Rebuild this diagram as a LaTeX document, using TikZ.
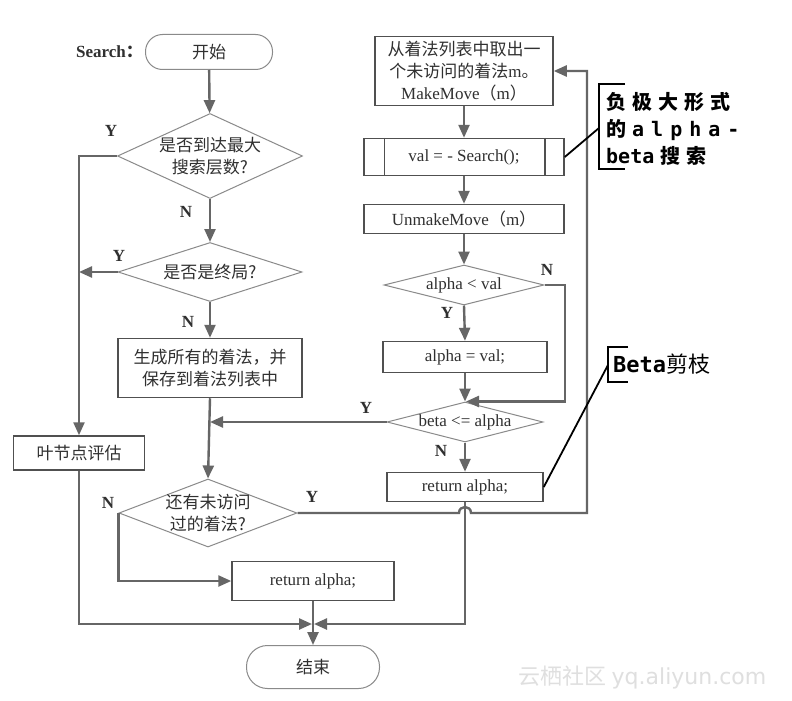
\documentclass[tikz,border=0pt]{standalone}
\usepackage{fontspec}
\setmainfont{Liberation Serif}
\newfontfamily\cjk{Noto Sans CJK SC}
\newfontfamily\annmono{DejaVu Sans Mono}
\usetikzlibrary{arrows.meta,shapes.geometric}
\definecolor{linec}{HTML}{666666}
\definecolor{boxc}{HTML}{505050}
\definecolor{diac}{HTML}{8A8A8A}
\definecolor{txt}{HTML}{303030}
\newcommand\tf{\fontsize{17}{22}\selectfont}
\newcommand\gapA{\hspace{6pt}}
\newcommand\gapB{\hspace{7pt}}
\tikzset{
  boxn/.style={draw=boxc, line width=1.5pt, fill=white, rectangle, inner sep=0pt, align=center, font=\tf, text=txt},
  dia/.style={draw=diac, line width=1pt, fill=white, diamond, inner sep=0pt},
  dtext/.style={align=center, font=\tf, text=txt, inner sep=0pt},
  term/.style={draw=diac, line width=1pt, fill=white, rectangle, inner sep=0pt, font=\tf, text=txt},
  arr/.style={draw=linec, line width=2.4pt, -{Triangle[length=13pt,width=11pt]}},
  ln/.style={draw=linec, line width=2.4pt},
  yn/.style={font=\fontsize{17}{17}\selectfont\bfseries, text=txt, inner sep=0pt},
  brk/.style={draw=black, line width=2.2pt},
}
\begin{document}
\begin{tikzpicture}[x=1pt,y=-1pt]
\fill[white] (0,0) rectangle (792,701);
\useasboundingbox (0,0) rectangle (792,701);

% left column
\node[font=\tf\bfseries, text=txt, anchor=east, inner sep=0pt] (lbl) at (143,52) {Search{\cjk ：}};
\node[term, minimum width=127pt, minimum height=35pt, rounded corners=17pt] (start) at (209,52) {\cjk 开始};
\node[dia, minimum width=185pt, minimum height=85pt] (d1) at (210,156) {};
\node[dtext] (d1t) at (d1) {\cjk 是否到达最大\\\cjk 搜索层数?};
\node[dia, minimum width=184pt, minimum height=59pt] (d2) at (210,272) {};
\node[dtext] (d2t) at (d2) {\cjk 是否是终局?};
\node[boxn, minimum width=184pt, minimum height=59pt] (gen) at (210,368) {\cjk 生成所有的着法，并\\\cjk 保存到着法列表中};
\node[boxn, minimum width=131pt, minimum height=34pt] (leaf) at (79,453) {\cjk 叶节点评估};
\node[dia, minimum width=178pt, minimum height=68pt] (d3) at (208,513) {};
\node[dtext] (d3t) at (d3) {\cjk 还有未访问\\\cjk 过的着法?};
\node[boxn, minimum width=162pt, minimum height=39pt] (ret2) at (313,581) {return alpha;};
\node[term, minimum width=133pt, minimum height=43pt, rounded corners=21pt] (end) at (313,667) {\cjk 结束};

% right column
\node[boxn, minimum width=178pt, minimum height=69pt] (b1) at (464,71) {{\cjk 从着法列表中取出一}\\{\cjk 个未访问的着法}m{\cjk 。}\\MakeMove{\cjk （}m{\cjk ）}};
\node[boxn, minimum width=200pt, minimum height=37pt] (b2) at (464,157) {val = - Search();};
\draw[draw=boxc, line width=1.5pt] ([xshift=21pt]b2.north west) -- ([xshift=21pt]b2.south west)
  ([xshift=-20pt]b2.north east) -- ([xshift=-20pt]b2.south east);
\node[boxn, minimum width=200pt, minimum height=29pt] (b3) at (464,219) {UnmakeMove{\cjk （}m{\cjk ）}};
\node[dia, minimum width=160pt, minimum height=40pt] (d4) at (464,285) {};
\node[dtext] (d4t) at (d4) {alpha < val};
\node[boxn, minimum width=164pt, minimum height=31pt] (b4) at (465,357) {alpha = val;};
\node[dia, minimum width=156pt, minimum height=40pt] (d5) at (465,422) {};
\node[dtext] (d5t) at (d5) {beta <= alpha};
\node[boxn, minimum width=156pt, minimum height=29pt] (ret1) at (465,487) {return alpha;};

% coordinates
\coordinate (rcol) at (587,0);
\coordinate (ncol) at (565,0);
\coordinate (m) at (313,624);

% connectors left
\draw[arr] (start) -- (d1);
\draw[arr] (d1.west) -| (leaf.north);
\draw[arr] (d1.south) -- (d2.north);
\draw[arr] (d2.west) -- (d2.west -| leaf.north);
\draw[arr] (d2.south) -- (gen.north);
\draw[arr] (gen.south) -- (d3.north);
\draw[arr] (d5.west) -- (d5.west -| gen.south);
\draw[arr] (d3.west) |- (ret2.west);
\draw[arr] (ret2.south) -- (end.north);
\draw[arr] (leaf.south) |- ([xshift=-1pt]m);
\draw[arr] (ret1.south) |- ([xshift=1pt]m);
% Y loop back with hop over the vertical line
\draw[arr] (d3.east) -- ([xshift=-6pt]d3.east -| ret1.south)
  .. controls ([xshift=-6pt,yshift=8pt]d3.east -| ret1.south) and ([xshift=6pt,yshift=8pt]d3.east -| ret1.south) ..
  ([xshift=6pt]d3.east -| ret1.south) -- (d3.east -| rcol) -- (b1.east -| rcol) -- (b1.east);

% connectors right
\draw[arr] (b1.south) -- (b2.north);
\draw[arr] (b2.south) -- (b3.north);
\draw[arr] (b3.south) -- (d4.north);
\draw[arr] (d4.south) -- (b4.north);
\draw[arr] (b4.south) -- (d5.north);
\draw[arr] (d4.east) -- (d4.east -| ncol) |- ([xshift=1pt]d5.north);
\draw[arr] (d5.south) -- (ret1.north);

% Y/N labels
\node[yn] (y1) at (111,131) {Y};
\node[yn] (n1) at (186,212) {N};
\node[yn] (y2) at (119,256) {Y};
\node[yn] (n2) at (188,322) {N};
\node[yn] (y5) at (366,408) {Y};
\node[yn] (n3) at (108,503) {N};
\node[yn] (y3) at (312,497) {Y};
\node[yn] (n4) at (547,270) {N};
\node[yn] (y4) at (447,313) {Y};
\node[yn] (n5) at (441,451) {N};

% annotations
\coordinate (k1) at (599,128);
\draw[brk] (625,84) -- (599,84) -- (599,169) -- (625,169);
\draw[black, line width=1.8pt] (b2.east) -- (k1);
\node[anchor=west, align=left, inner sep=0pt, font=\fontsize{20}{27}\selectfont\bfseries, text=black] (ann1) at (606,129)
  {{\cjk 负\gapA 极\gapA 大\gapA 形\gapA 式}\\
   {\cjk 的}\gapA{\annmono a\gapB l\gapB p\gapB h\gapB a\gapB -}\\
   {\annmono beta}\gapA{\cjk 搜\gapA 索}};
\coordinate (k2) at (608,365);
\draw[brk] (628,347) -- (608,347) -- (608,382) -- (628,382);
\draw[black, line width=1.8pt] (ret1.east) -- (k2);
\node[anchor=west, inner sep=0pt, font=\fontsize{22}{22}\selectfont, text=black] (ann2) at (613,364)
  {{\annmono\bfseries Beta}{\cjk 剪枝}};

% watermark
\node[anchor=west, inner sep=0pt, font=\fontsize{22}{22}\selectfont, text=gray!25] (wm) at (518,678)
  {{\cjk 云栖社区} {\fontspec{DejaVu Sans}yq.aliyun.com}};
\end{tikzpicture}
\end{document}
